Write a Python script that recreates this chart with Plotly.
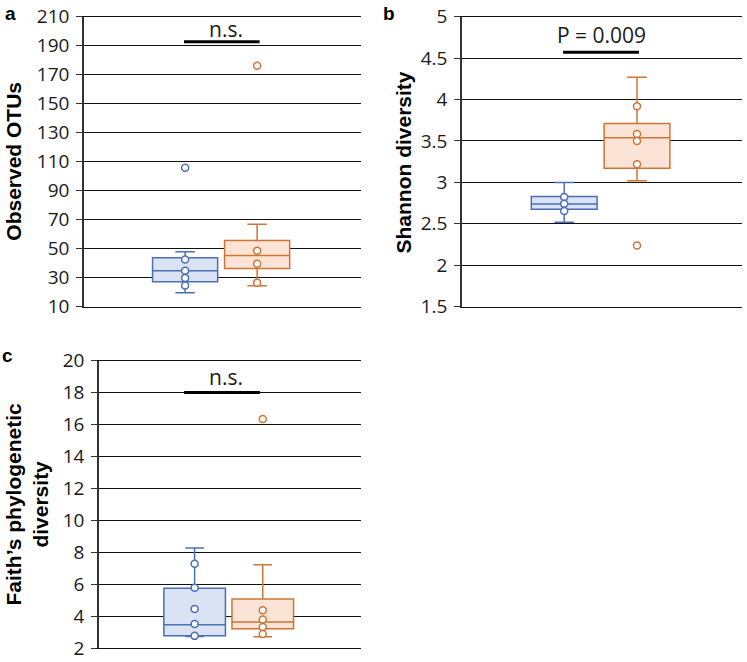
import plotly.graph_objects as go

# ---------------- data ----------------
groups = ["Group 1", "Group 2"]

# Panel a: Observed OTUs (box stats + shown points)
a_q1 = [27.2, 36.4]
a_med = [34.8, 45.3]
a_q3 = [43.8, 55.7]
a_low = [19.7, 24.5]
a_high = [47.9, 66.8]
a_pts_g1 = [105.9, 42.6, 34.8, 29.8, 24.7]
a_pts_g2 = [176.2, 48.6, 39.7, 26.6]

# Panel b: Shannon diversity
b_q1 = [2.675, 3.17]
b_med = [2.74, 3.54]
b_q3 = [2.83, 3.71]
b_low = [2.52, 3.02]
b_high = [3.0, 4.27]
b_pts_g1 = [2.824, 2.743, 2.655]
b_pts_g2 = [3.92, 3.584, 3.50, 3.218, 2.24]

# Panel c: Faith's phylogenetic diversity
c_q1 = [2.76, 3.2]
c_med = [3.46, 3.63]
c_q3 = [5.75, 5.07]
c_low = [2.72, 2.7]
c_high = [8.27, 7.22]
c_pts_g1 = [7.28, 5.77, 4.45, 3.51, 2.76]
c_pts_g2 = [16.35, 4.37, 3.79, 3.32, 2.87]

a_ticks = [10, 30, 50, 70, 90, 110, 130, 150, 170, 190, 210]
b_ticks = [1.5, 2, 2.5, 3, 3.5, 4, 4.5, 5]
c_ticks = [2, 4, 6, 8, 10, 12, 14, 16, 18, 20]

sig_labels = ["n.s.", "P = 0.009", "n.s."]
sig_levels = [192.8, 4.57, 18.0]

# ---------------- style ----------------
edge = ["#4A6FB5", "#CF7436"]
fill = ["#DAE3F3", "#FBE4D5"]
centers = [0.365, 0.625]
W = 747
H = 662

fig = go.Figure()

panels = [
    dict(q1=a_q1, med=a_med, q3=a_q3, low=a_low, high=a_high,
         pts=[a_pts_g1, a_pts_g2], xa="x", ya="y"),
    dict(q1=b_q1, med=b_med, q3=b_q3, low=b_low, high=b_high,
         pts=[b_pts_g1, b_pts_g2], xa="x2", ya="y2"),
    dict(q1=c_q1, med=c_med, q3=c_q3, low=c_low, high=c_high,
         pts=[c_pts_g1, c_pts_g2], xa="x3", ya="y3"),
]

for p in panels:
    for i, g in enumerate(groups):
        fig.add_trace(go.Box(
            name=g, x=[centers[i]], q1=[p["q1"][i]], median=[p["med"][i]],
            q3=[p["q3"][i]], lowerfence=[p["low"][i]], upperfence=[p["high"][i]],
            width=0.235, whiskerwidth=0.3, boxpoints=False,
            fillcolor=fill[i], line=dict(color=edge[i], width=1.5),
            xaxis=p["xa"], yaxis=p["ya"], showlegend=False, hoverinfo="y",
        ))
        fig.add_trace(go.Scatter(
            x=[centers[i]] * len(p["pts"][i]), y=p["pts"][i], mode="markers",
            marker=dict(symbol="circle", size=7, color="white",
                        line=dict(color=edge[i], width=1.5)),
            xaxis=p["xa"], yaxis=p["ya"], showlegend=False, name=g,
        ))


def px2x(v):
    return v / W


def px2y(v):
    return 1 - v / H


xdoms = [[px2x(84), px2x(361)], [px2x(462), px2x(742)], [px2x(99), px2x(361)]]
ydoms = [[px2y(306.7), px2y(16.7)], [px2y(306.7), px2y(16.7)], [px2y(648), px2y(360.7)]]
yranges = [[10, 210], [1.5, 5], [2, 20]]
ytickss = [a_ticks, b_ticks, c_ticks]

gridc = "#111111"
tickfont = dict(family="Open Sans", size=19, color="#1a1a1a")
for k in range(3):
    sfx = "" if k == 0 else str(k + 1)
    fig.update_layout(**{
        "xaxis" + sfx: dict(domain=xdoms[k], range=[0, 1], anchor="y" + sfx,
                            showgrid=False, zeroline=False, showticklabels=False,
                            ticks="", showline=True, mirror=True,
                            linecolor=gridc, linewidth=1.3,
                            automargin=False, fixedrange=True),
        "yaxis" + sfx: dict(domain=ydoms[k], range=yranges[k], anchor="x" + sfx,
                            tickmode="array", tickvals=ytickss[k],
                            ticktext=[str(t) for t in ytickss[k]],
                            showgrid=True, gridcolor=gridc, gridwidth=1.3,
                            showline=True, linecolor="#333333", linewidth=1.6,
                            ticks="outside", ticklen=6, tickcolor="#333333",
                            tickwidth=1.3, tickfont=tickfont, zeroline=False,
                            ticklabelstandoff=3, ticklabeloverflow="allow",
                            automargin=False, fixedrange=True),
    })

# significance bars
sig_x = [[0.361, 0.634], [0.361, 0.632], [0.325, 0.614]]
sig_text_x = [0.513, 0.499, 0.485]
sig_text_y = [201.3, 4.78, 19.0]
shapes = []
annotations = []
for k in range(3):
    sfx = "" if k == 0 else str(k + 1)
    shapes.append(dict(type="line", xref="x" + sfx, yref="y" + sfx,
                       x0=sig_x[k][0], x1=sig_x[k][1],
                       y0=sig_levels[k], y1=sig_levels[k],
                       line=dict(color="black", width=3)))
    annotations.append(dict(xref="x" + sfx, yref="y" + sfx, x=sig_text_x[k],
                            y=sig_text_y[k], text=sig_labels[k], showarrow=False,
                            font=dict(family="Open Sans", size=21, color="#1a1a1a"),
                            xanchor="center", yanchor="middle"))

title_font = dict(family="Liberation Sans", size=21, color="black")
annotations += [
    dict(xref="paper", yref="paper", x=px2x(14), y=px2y(161.7),
         text="<b>Observed OTUs</b>", textangle=-90, showarrow=False,
         font=title_font, xanchor="center", yanchor="middle"),
    dict(xref="paper", yref="paper", x=px2x(403), y=px2y(162.5),
         text="<b>Shannon diversity</b>", textangle=-90, showarrow=False,
         font=title_font, xanchor="center", yanchor="middle"),
    dict(xref="paper", yref="paper", x=px2x(26.5), y=px2y(504),
         text="<b>Faith’s phylogenetic<br>diversity</b>", textangle=-90,
         showarrow=False, font=title_font, xanchor="center", yanchor="middle"),
]
label_font = dict(family="Liberation Sans", size=19, color="black")
for lab, xx, yy in [("a", 3, 13.4), ("b", 381, 13.4), ("c", 0, 355.4)]:
    annotations.append(dict(xref="paper", yref="paper", x=px2x(xx), y=px2y(yy),
                            text="<b>" + lab + "</b>", showarrow=False,
                            font=label_font, xanchor="left", yanchor="middle"))

fig.update_layout(
    width=W, height=H, margin=dict(l=0, r=0, t=0, b=0, autoexpand=False),
    paper_bgcolor="white", plot_bgcolor="white",
    shapes=shapes, annotations=annotations, showlegend=False,
)

fig.write_html("out.html",
               config={"displayModeBar": False},
               post_script="document.body.style.margin='0';"
                           "document.body.style.overflow='hidden';")
